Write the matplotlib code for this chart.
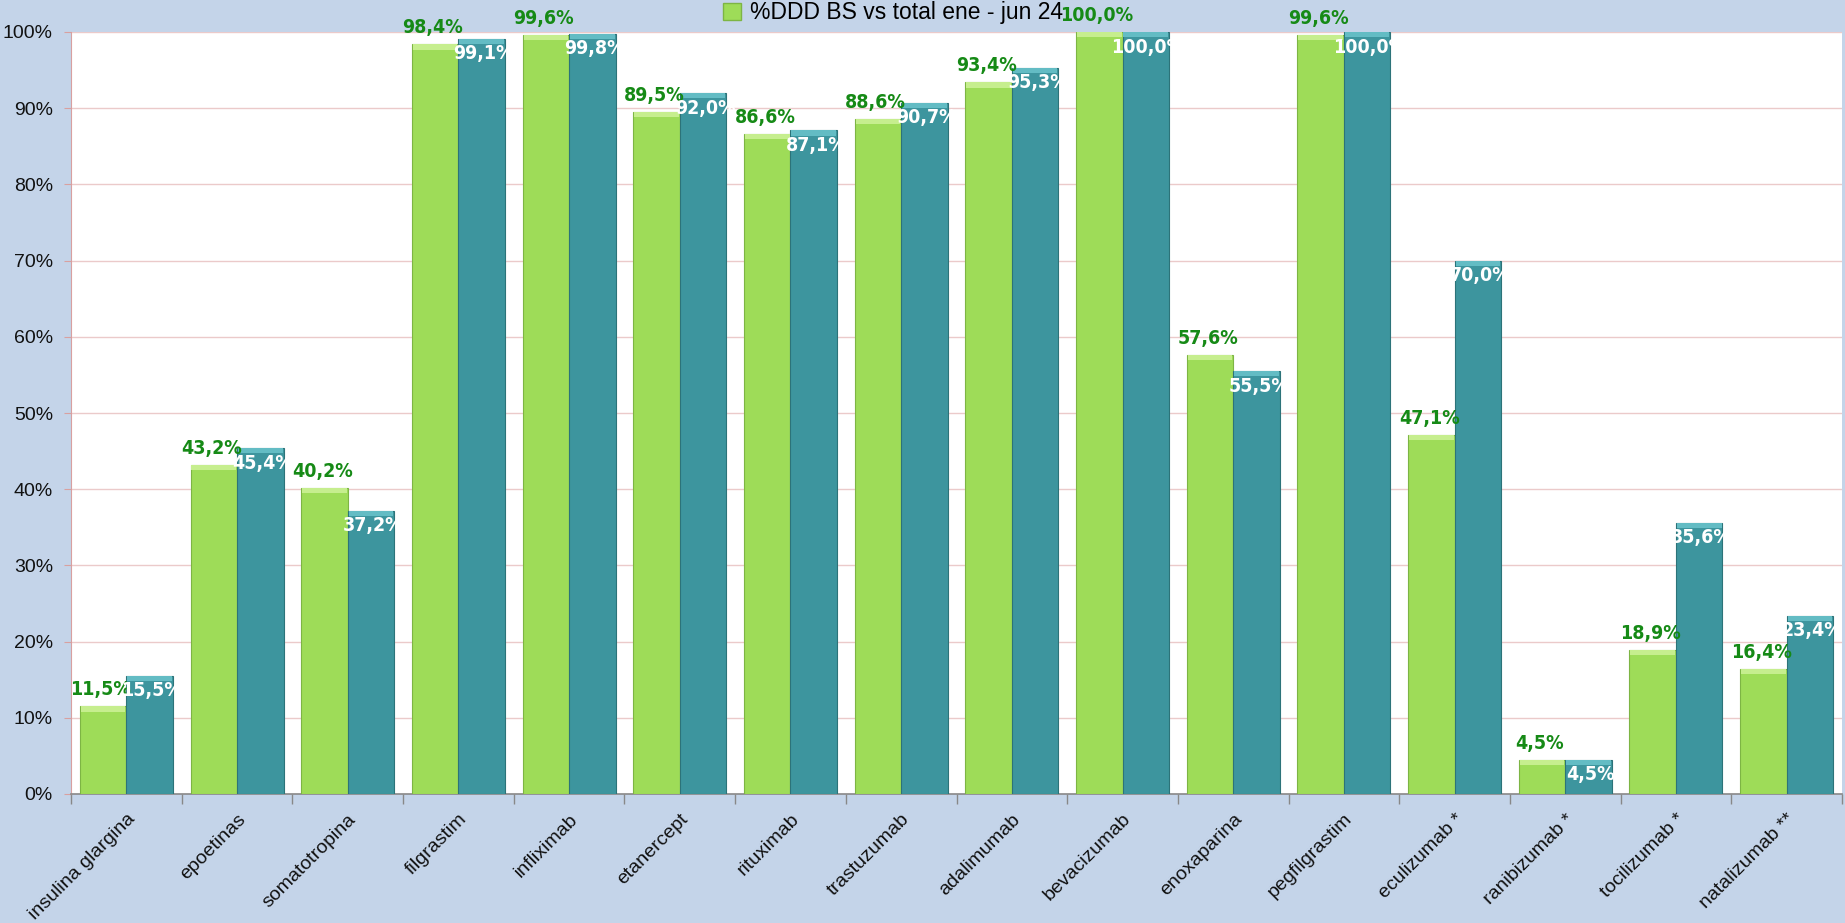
import numpy as np
import matplotlib
matplotlib.use("Agg")
import matplotlib.pyplot as plt
from matplotlib.patches import Patch
from matplotlib.ticker import FuncFormatter, MultipleLocator

categories = ["insulina glargina", "epoetinas", "somatotropina", "filgrastim",
              "infliximab", "etanercept", "rituximab", "trastuzumab", "adalimumab",
              "bevacizumab", "enoxaparina", "pegfilgrastim", "eculizumab *",
              "ranibizumab *", "tocilizumab *", "natalizumab **"]
jun24 = [11.5, 43.2, 40.2, 98.4, 99.6, 89.5, 86.6, 88.6, 93.4, 100.0,
         57.6, 99.6, 47.1, 4.5, 18.9, 16.4]
second = [15.5, 45.4, 37.2, 99.1, 99.8, 92.0, 87.1, 90.7, 95.3, 100.0,
          55.5, 100.0, 70.0, 4.5, 35.6, 23.4]
legend_label = "%DDD BS vs total ene - jun 24"

bg = "#C4D4E9"
green, green_top, green_edge = "#9EDC58", "#C6EE8E", "#7DB544"
teal, teal_top, teal_edge = "#3D959E", "#63BCC4", "#2C7379"
label_green = "#168A16"
regular = ["Liberation Sans", "DejaVu Sans"]

fig = plt.figure(figsize=(18.45, 9.23), dpi=100, facecolor=bg)
ax = fig.add_axes([71 / 1845, 1 - 794 / 923, (1842 - 71) / 1845, (794 - 32) / 923])
ax.set_facecolor("white")

x = np.arange(len(categories))
w = 0.42
ax.bar(x - w / 2, jun24, w, color=green, edgecolor=green_edge, linewidth=0.8, zorder=3)
ax.bar(x + w / 2, second, w, color=teal, edgecolor=teal_edge, linewidth=0.8, zorder=3)
# light bevel on the top of every bar
ax.bar(x - w / 2, 0.7, w * 0.96, bottom=np.array(jun24) - 0.7, color=green_top, linewidth=0, zorder=4)
ax.bar(x + w / 2, 0.7, w * 0.96, bottom=np.array(second) - 0.7, color=teal_top, linewidth=0, zorder=4)

fmt = lambda v: f"{v:.1f}%".replace(".", ",")
lab = dict(fontsize=14, fontweight="bold", family="DejaVu Sans", fontstretch="condensed",
           annotation_clip=False, zorder=6, ha="center")
for xi, v in zip(x, jun24):
    ax.annotate(fmt(v), (xi - w / 2 - 0.02, v), xytext=(0, 8), textcoords="offset points",
                va="baseline", color=label_green, **lab)
for xi, v in zip(x, second):
    ax.annotate(fmt(v), (xi + w / 2 + 0.02, v), xytext=(0, -4), textcoords="offset points",
                va="top", color="white", **lab)

ax.set_xlim(-0.5, len(categories) - 0.5)
ax.set_ylim(0, 100)
ax.yaxis.set_major_locator(MultipleLocator(10))
ax.yaxis.set_major_formatter(FuncFormatter(lambda v, p: f"{v:.0f}%"))
ax.grid(axis="y", color="#EBCACA", linewidth=1, zorder=0)
ax.set_axisbelow(True)

ax.set_xticks(x)
ax.set_xticklabels(categories, rotation=45, ha="right", rotation_mode="anchor",
                   fontsize=14, family=regular, color="#111111")
ax.set_xticks(np.arange(-0.5, len(categories)), minor=True)
ax.tick_params(axis="x", which="major", length=0, pad=12)
ax.tick_params(axis="x", which="minor", length=7, color="#888888", width=1)
ax.tick_params(axis="y", length=5, color="#D8A0A0", labelsize=14, labelcolor="#111111", pad=8)
for t in ax.get_yticklabels():
    t.set_family(regular)

for s in ["top", "right"]:
    ax.spines[s].set_visible(False)
ax.spines["left"].set_color("#D8A0A0")
ax.spines["bottom"].set_color("#888888")
ax.spines["bottom"].set_linewidth(1.2)

handle = Patch(facecolor=green, edgecolor=green_edge)
fig.legend([handle], [legend_label], loc="center", bbox_to_anchor=(893 / 1845, 1 - 13 / 923),
           frameon=False, prop={"family": regular, "size": 16.5}, handlelength=0.8,
           handleheight=0.8, handletextpad=0.4)

fig.savefig("out.png", dpi=100, facecolor=bg)
